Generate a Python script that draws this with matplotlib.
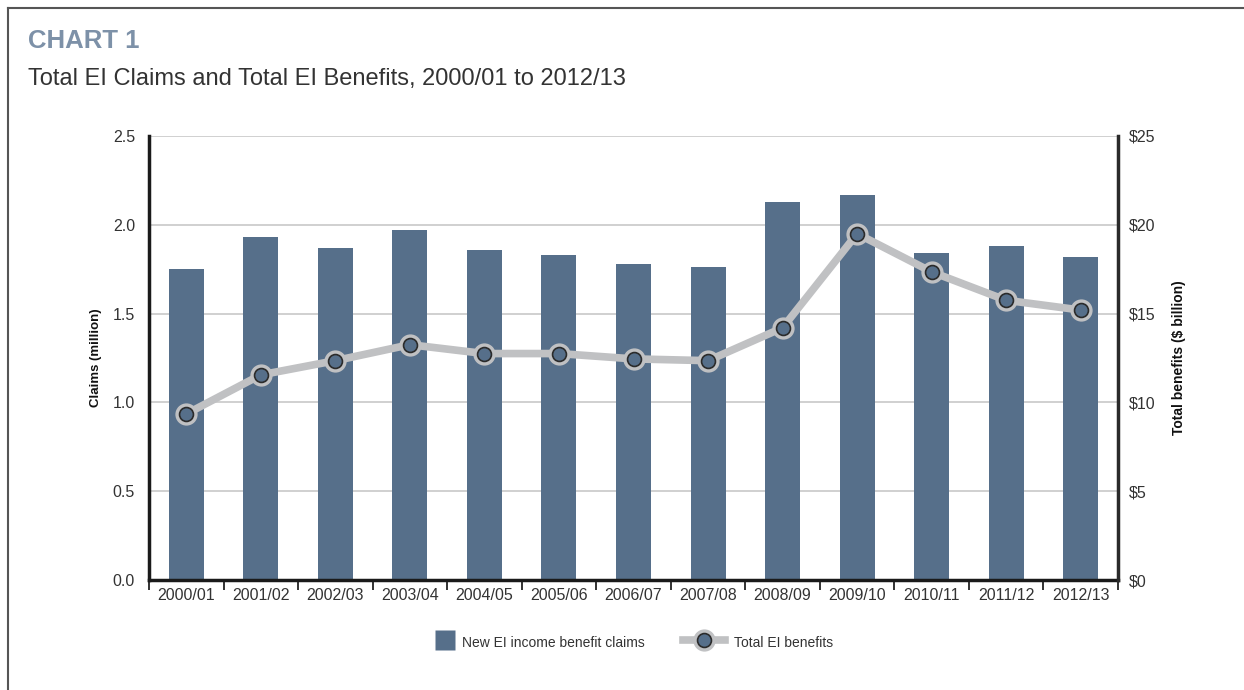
import matplotlib
matplotlib.use("Agg")
import matplotlib.pyplot as plt
from matplotlib.lines import Line2D
from matplotlib.ticker import FixedLocator
import numpy as np

plt.rcParams['font.family'] = ['Liberation Sans Narrow', 'Liberation Sans', 'DejaVu Sans']

years = ["2000/01", "2001/02", "2002/03", "2003/04", "2004/05", "2005/06", "2006/07",
         "2007/08", "2008/09", "2009/10", "2010/11", "2011/12", "2012/13"]
claims_million = [1.75, 1.93, 1.87, 1.97, 1.86, 1.83, 1.78, 1.76, 2.13, 2.17, 1.84, 1.88, 1.82]
benefits_billion = [9.35, 11.55, 12.35, 13.25, 12.75, 12.75, 12.45, 12.35, 14.2, 19.5, 17.35, 15.75, 15.2]
left_ticks = [0.0, 0.5, 1.0, 1.5, 2.0, 2.5]
right_ticks = [0, 5, 10, 15, 20, 25]

BAR = "#566f8a"
LINE = "#c0c1c3"
TXT = "#333333"

fig = plt.figure(figsize=(12.44, 6.9), dpi=100)

# page frame
fig.add_artist(Line2D([8/1244, 8/1244], [0, 1 - 8/690], color="#555555", lw=1.5))
fig.add_artist(Line2D([8/1244, 1], [1 - 8/690, 1 - 8/690], color="#555555", lw=1.5))

fig.text(28/1244, 1 - 41/690, "CHART 1", color="#7d91a8", fontsize=18.5, fontweight="bold",
         va="center", ha="left")
fig.text(28/1244, 1 - 79/690, "Total EI Claims and Total EI Benefits, 2000/01 to 2012/13",
         color=TXT, fontsize=17, va="center", ha="left")

ax = fig.add_axes([149/1244, 1 - 580/690, (1118 - 149)/1244, (580 - 136)/690])
x = np.arange(len(years))
ax.bar(x, claims_million, width=0.47, color=BAR, zorder=2)
ax.set_xlim(-0.5, len(years) - 0.5)
ax.set_ylim(0, 2.5)
ax.yaxis.set_major_locator(FixedLocator(left_ticks))
ax.set_yticklabels([f"{v:.1f}" for v in left_ticks])
ax.grid(axis="y", color="#c8c8c8", lw=1.2, zorder=0)
ax.set_axisbelow(True)
ax.tick_params(axis="y", length=0, labelsize=11.5, labelcolor=TXT, pad=10)
ax.xaxis.set_major_locator(FixedLocator(np.arange(-0.5, len(years), 1.0)))
ax.xaxis.set_minor_locator(FixedLocator(x))
ax.set_xticklabels([""] * (len(years) + 1))
ax.set_xticklabels(years, minor=True)
ax.tick_params(axis="x", which="major", length=7, width=1.3, color="#222222", direction="out")
ax.tick_params(axis="x", which="minor", length=0, labelsize=11.5, labelcolor=TXT, pad=6)
for s in ["top", "right"]:
    ax.spines[s].set_visible(False)
ax.spines["left"].set_linewidth(2.5)
ax.spines["left"].set_color("#1a1a1a")
ax.spines["bottom"].set_linewidth(2.5)
ax.spines["bottom"].set_color("#1a1a1a")
ax.set_ylabel("Claims (million)", fontsize=9.5, fontweight="bold", color="#111111", labelpad=8)

ax2 = ax.twinx()
ax2.set_ylim(0, 25)
ax2.yaxis.set_major_locator(FixedLocator(right_ticks))
ax2.set_yticklabels([f"${v}" for v in right_ticks])
ax2.tick_params(axis="y", length=0, labelsize=11.5, labelcolor=TXT, pad=8)
for s in ["top", "left", "bottom"]:
    ax2.spines[s].set_visible(False)
ax2.spines["right"].set_linewidth(2.5)
ax2.spines["right"].set_color("#2a2a2a")
ax2.set_ylabel("Total benefits ($ billion)", fontsize=10, fontweight="bold", color="#111111",
               labelpad=12)
ax2.plot(x, benefits_billion, color=LINE, lw=5.5, marker="o", ms=15, mfc=LINE, mec=LINE,
         zorder=3, solid_capstyle="butt")
ax2.plot(x, benefits_billion, ls="none", marker="o", ms=10, mfc=BAR, mec="#2b2b2b", mew=1.2,
         zorder=4)

# legend: one entry per box so each key can have its own width
leg_y = 1 - 642/690
h_bar = Line2D([], [], ls="none", marker="s", ms=14.5, mfc=BAR, mec="none")
fig.legend([h_bar], ["New EI income benefit claims"], loc="center left",
           bbox_to_anchor=(435/1244, leg_y), frameon=False, fontsize=10,
           handlelength=1.45, handleheight=1.45, handletextpad=0.5,
           borderpad=0, borderaxespad=0, labelcolor=TXT)
h_line = (Line2D([], [], color=LINE, lw=5.5, marker="o", ms=15, mfc=LINE, mec=LINE),
          Line2D([], [], ls="none", marker="o", ms=10, mfc=BAR, mec="#2b2b2b", mew=1.2))
fig.legend([h_line], ["Total EI benefits"], loc="center left",
           bbox_to_anchor=(683/1244, leg_y), frameon=False, fontsize=10,
           handlelength=3.0, handleheight=1.45, handletextpad=0.7,
           borderpad=0, borderaxespad=0, labelcolor=TXT)

fig.savefig("out.png", dpi=100)
